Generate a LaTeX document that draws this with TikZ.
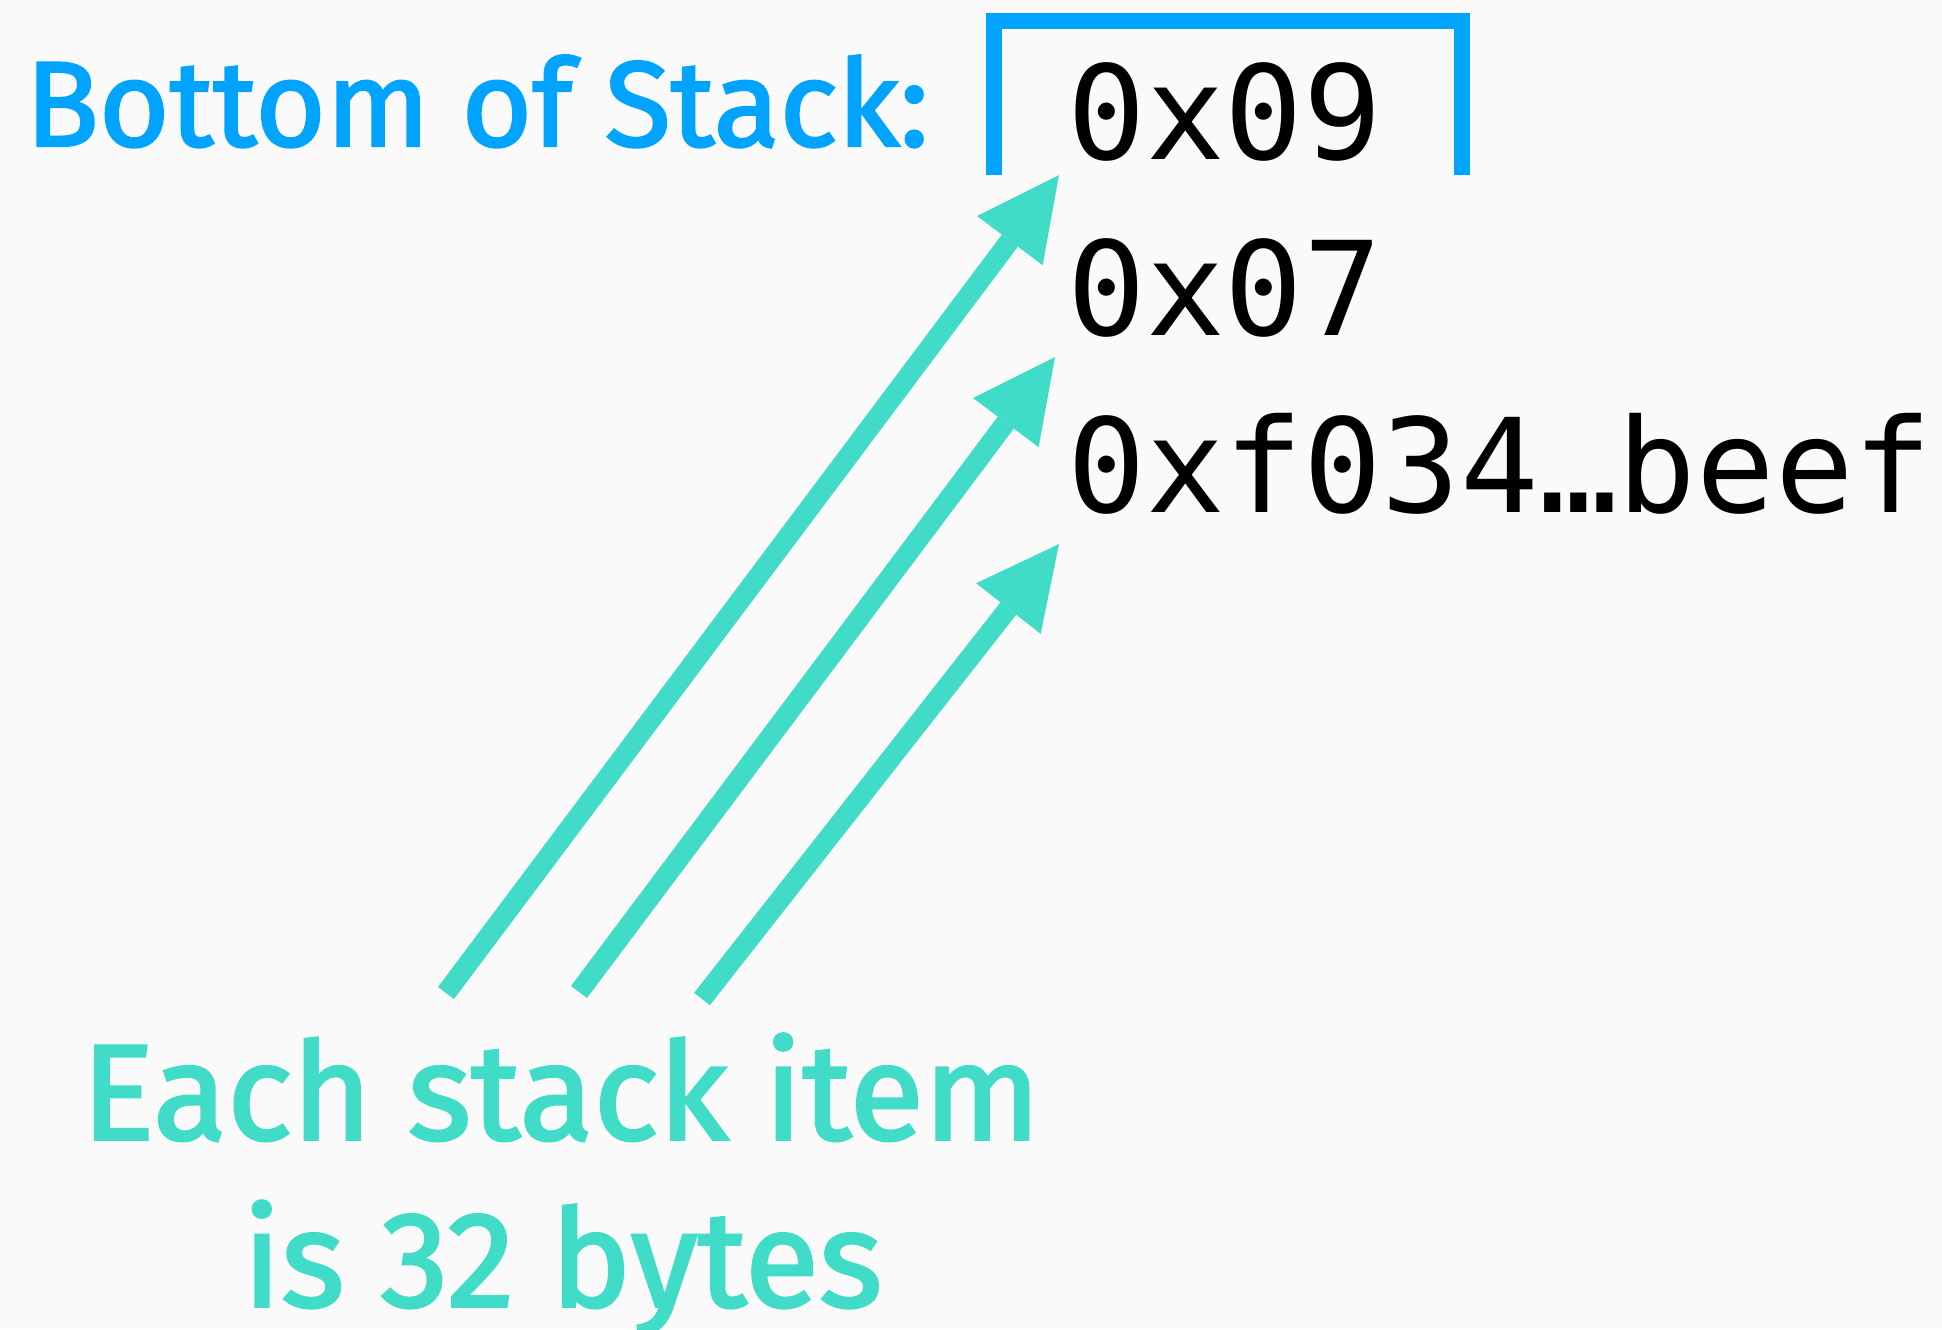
\documentclass[tikz,border=0pt]{standalone}
\usepackage{fontspec}
\setmainfont{Fira Sans}
\newfontfamily\labelfont{Fira Sans}[FakeBold=2]
\newfontfamily\hexfont{DejaVu Sans Mono}
\usetikzlibrary{arrows.meta}
\definecolor{bgc}{HTML}{FAFAFA}
\definecolor{bluec}{HTML}{00A4FF}
\definecolor{greenc}{HTML}{40DCC8}
\begin{document}
\begin{tikzpicture}[x=0.5pt,y=-0.5pt]
\tikzset{
 hexval/.style={anchor=base west, inner sep=0pt, font=\hexfont\fontsize{65.3}{78}\selectfont, text=black},
 bluelabel/.style={anchor=base west, inner sep=0pt, font=\labelfont\fontsize{60.5}{74}\selectfont, text=bluec},
 greenlabel/.style={anchor=base, inner sep=0pt, font=\labelfont\fontsize{68}{82}\selectfont, text=greenc},
 arr/.style={draw=greenc, line width=10pt, -{Triangle[length=41pt,width=41pt,line width=0pt]}},
 bracket/.style={draw=bluec, line width=8pt, line join=miter}
}
\fill[bgc] (0,0) rectangle (1942,1329);
\useasboundingbox (0,0) rectangle (1942,1329);
% stack values
\node[hexval] (v09) at (1067,159) {0x09};
\node[hexval] (v07) at (1067,335) {0x07};
\node[hexval] (vbeef) at (1067,512) {0xf034…beef};
% bracket over top item
\coordinate (bl) at (994,175);
\coordinate (tl) at (994,21.3);
\coordinate (tr) at (1462,21.3);
\coordinate (br) at (1462,175);
\draw[bracket] (bl) -- (tl) -- (tr) -- (br);
% labels
\node[bluelabel] (bottom) at (25,146) {Bottom of Stack:};
\node[greenlabel] (g1) at (561,1139.5) {Each stack item};
\node[greenlabel] (g2) at (562.5,1306.6) {is 32 bytes};
% arrows
\coordinate (t1) at (446,993);
\coordinate (h1) at (1059,175);
\coordinate (t2) at (579,992);
\coordinate (h2) at (1055,357);
\coordinate (t3) at (702,999);
\coordinate (h3) at (1059,544);
\draw[arr] (t1) -- (h1);
\draw[arr] (t2) -- (h2);
\draw[arr] (t3) -- (h3);
\end{tikzpicture}
\end{document}
